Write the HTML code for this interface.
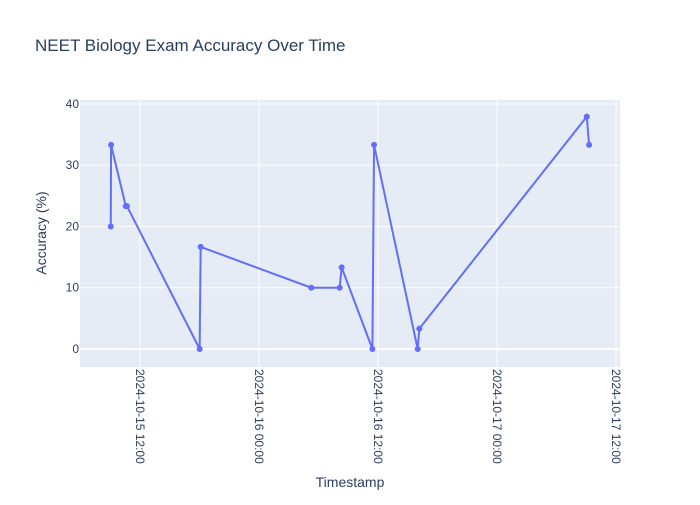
<!DOCTYPE html>
<html><head><meta charset="utf-8"><style>
body{margin:0;background:#fff;font-family:"Liberation Sans",Arial,sans-serif}
text{font-family:"Liberation Sans",Arial,sans-serif}
</style></head><body>
<svg id="chart" width="700" height="500" xmlns="http://www.w3.org/2000/svg">
<rect width="700" height="500" fill="#fff"/>
<text x="35" y="51" font-size="17" fill="#2a3f5f">NEET Biology Exam Accuracy Over Time</text>
<rect x="80" y="100" width="540" height="267" fill="#e5ecf6"/>
<g id="grid"></g><g id="ticks"></g>
<polyline id="line" fill="none" stroke="#636efa" stroke-width="2"/>
<g id="points"></g>
<text transform="translate(46,233) rotate(-90)" text-anchor="middle" font-size="14" fill="#2a3f5f">Accuracy (%)</text>
<text x="350" y="487" text-anchor="middle" font-size="14" fill="#2a3f5f">Timestamp</text>
</svg>
<script>
const timestamps=["2024-10-15T09:03","2024-10-15T09:05","2024-10-15T10:34","2024-10-15T10:41","2024-10-15T18:01","2024-10-15T18:07","2024-10-16T05:16","2024-10-16T08:08","2024-10-16T08:20","2024-10-16T11:26","2024-10-16T11:36","2024-10-16T16:00","2024-10-16T16:10","2024-10-17T09:03","2024-10-17T09:17"];
const accuracy=[20,33.33,23.33,23.33,0,16.67,10,10,13.33,0,33.33,0,3.33,37.93,33.33];
const yTicks=[0,10,20,30,40];
const xTicks=["2024-10-15T12:00","2024-10-16T00:00","2024-10-16T12:00","2024-10-17T00:00","2024-10-17T12:00"];
const xTickLabels=["2024-10-15 12:00","2024-10-16 00:00","2024-10-16 12:00","2024-10-17 00:00","2024-10-17 12:00"];
const NS="http://www.w3.org/2000/svg";
const t0=Date.parse("2024-10-15T12:00Z");
function hrs(s){return (Date.parse(s+"Z")-t0)/3600000;}
const xMin=-6.05,xMax=48.4,yMin=-2.94,yMax=40.65;
function X(s){return 80+(hrs(s)-xMin)/(xMax-xMin)*540;}
function Y(v){return 367-(v-yMin)/(yMax-yMin)*267;}
function mk(tag,attrs,parent){const e=document.createElementNS(NS,tag);for(const k in attrs)e.setAttribute(k,attrs[k]);parent.appendChild(e);return e;}
const grid=document.getElementById('grid'),ticks=document.getElementById('ticks');
yTicks.forEach(v=>{
 const l=mk('line',{x1:80,x2:620,y1:Y(v),y2:Y(v),stroke:'#fff','stroke-width':v===0?2:1},grid);
 
 
 const t=mk('text',{x:78-0,y:Y(v)+4,'text-anchor':'end','font-size':12,fill:'#2a3f5f'},ticks);
 t.setAttribute('x',79);
 t.textContent=v;
 
 
});
xTicks.forEach((s,i)=>{
 const x=X(s);
 const l=mk('line',{x1:x,x2:x,y1:100,y2:367,stroke:'#fff','stroke-width':1},grid);
 
 
 const t=mk('text',{transform:`translate(${x-4},369) rotate(90)`,'font-size':12,fill:'#2a3f5f'},ticks);
 t.textContent=xTickLabels[i];
 
 
});
document.getElementById('line').setAttribute('points',timestamps.map((s,i)=>X(s)+','+Y(accuracy[i])).join(' '));
const pts=document.getElementById('points');
timestamps.forEach((s,i)=>{
 const c=mk('circle',{cx:X(s),cy:Y(accuracy[i]),r:3,fill:'#636efa'},pts);
 
 
});
</script>
</body></html>
